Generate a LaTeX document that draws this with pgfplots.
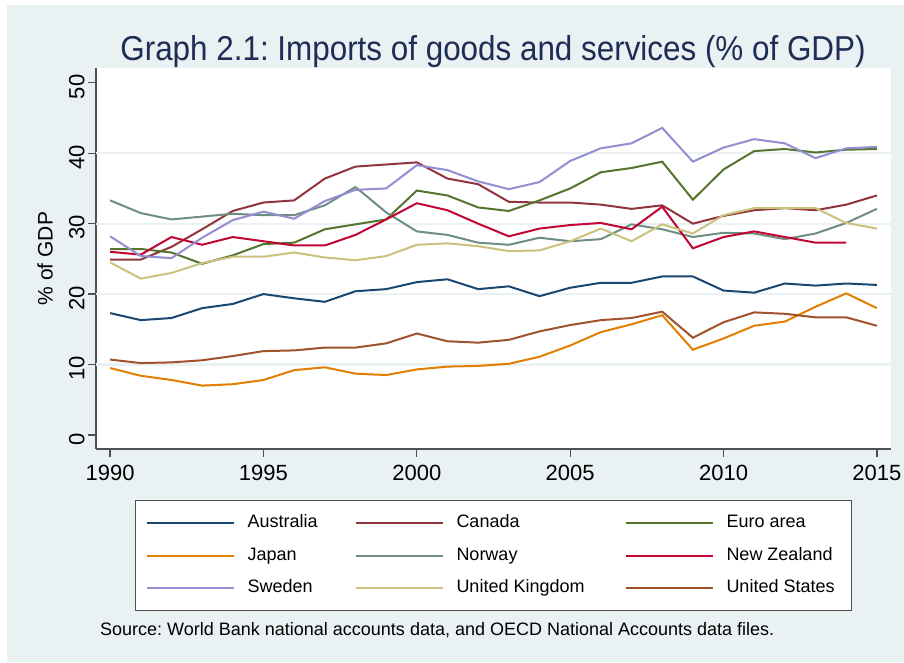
\documentclass[border=0pt]{standalone}
\usepackage{fontspec}
\setmainfont{Liberation Sans}
\usepackage{graphicx}
\usepackage{pgfplots}
\usepackage{pgfplotstable}
\pgfplotsset{compat=1.18}
\frenchspacing

\definecolor{bgc}{RGB}{233,241,243}
\definecolor{gridc}{RGB}{233,241,243}
\definecolor{axc}{RGB}{80,80,80}
\definecolor{titlec}{RGB}{30,45,85}
\definecolor{cnavy}{RGB}{26,71,111}
\definecolor{cmaroon}{RGB}{144,53,59}
\definecolor{cforest}{RGB}{85,117,47}
\definecolor{corange}{RGB}{227,126,0}
\definecolor{cteal}{RGB}{110,142,132}
\definecolor{ccranb}{RGB}{193,5,52}
\definecolor{clav}{RGB}{147,141,210}
\definecolor{ckhaki}{RGB}{202,194,126}
\definecolor{csienna}{RGB}{160,82,45}

% imports, % of GDP
\pgfplotstableread{
year aus  can  euro jpn  nor  nz   swe  uk   us
1990 17.3 24.9 26.4 9.5  33.3 26.0 28.2 24.5 10.7
1991 16.3 24.9 26.4 8.4  31.5 25.6 25.4 22.2 10.2
1992 16.6 26.7 25.9 7.8  30.6 28.1 25.1 23.0 10.3
1993 18.0 29.2 24.3 7.0  31.0 27.0 28.0 24.4 10.6
1994 18.6 31.8 25.5 7.2  31.4 28.1 30.5 25.3 11.2
1995 20.0 33.0 27.1 7.8  31.2 27.5 31.7 25.3 11.9
1996 19.4 33.3 27.3 9.2  31.2 26.9 30.7 25.9 12.0
1997 18.9 36.4 29.2 9.6  32.6 26.9 33.2 25.2 12.4
1998 20.4 38.1 29.9 8.7  35.2 28.4 34.8 24.8 12.4
1999 20.7 38.4 30.6 8.5  31.6 30.6 35.0 25.4 13.0
2000 21.7 38.7 34.7 9.3  28.9 32.9 38.3 27.0 14.4
2001 22.1 36.4 34.0 9.7  28.4 31.9 37.6 27.2 13.3
2002 20.7 35.6 32.3 9.8  27.3 30.0 36.0 26.8 13.1
2003 21.1 33.1 31.8 10.1 27.0 28.2 34.9 26.1 13.5
2004 19.7 33.0 33.3 11.1 28.0 29.3 35.9 26.2 14.7
2005 20.9 33.0 35.0 12.7 27.5 29.8 38.9 27.5 15.6
2006 21.6 32.7 37.3 14.6 27.8 30.1 40.7 29.3 16.3
2007 21.6 32.1 37.9 15.7 29.9 29.2 41.4 27.5 16.6
2008 22.5 32.6 38.8 17.0 29.2 32.4 43.6 29.9 17.5
2009 22.5 30.0 33.4 12.1 28.1 26.5 38.8 28.6 13.8
2010 20.5 31.1 37.7 13.7 28.7 28.1 40.8 31.2 16.0
2011 20.2 31.9 40.3 15.5 28.6 28.9 42.0 32.2 17.4
2012 21.5 32.2 40.6 16.1 27.8 28.1 41.4 32.2 17.2
2013 21.2 31.9 40.1 18.2 28.6 27.3 39.3 32.2 16.7
2014 21.5 32.7 40.5 20.1 30.1 27.3 40.7 30.1 16.7
2015 21.3 34.0 40.6 18.0 32.1 nan  40.9 29.3 15.5
}\imports

\newcommand{\lgA}[1]{\makebox[120pt][l]{\hspace{13pt}#1}}
\newcommand{\lgB}[1]{\makebox[181pt][l]{\hspace{13pt}#1}}
\newcommand{\lgC}[1]{\makebox[128pt][l]{\hspace{13pt}#1}}

\begin{document}
\begin{tikzpicture}
\fill[white] (0,0) rectangle (904pt,-662pt);
\fill[bgc] (7pt,-5pt) rectangle (904pt,-662pt);

\begin{axis}[
  at={(96pt,-449pt)}, anchor=south west,
  width=795pt, height=381pt, scale only axis,
  xmin=1989.54, xmax=2015.46, ymin=-2, ymax=52.1,
  axis x line*=bottom, axis y line*=left,
  axis line style={draw=axc, line width=1.3pt, -},
  axis background/.style={fill=white},
  tick align=outside, major tick length=8pt,
  tick style={draw=axc, line width=1.3pt},
  xtick={1990,1995,...,2015}, ytick={0,10,...,50},
  extra y ticks={10,20,30,40}, extra y tick labels={},
  extra y tick style={grid=major, major tick length=0pt,
    major grid style={draw=gridc, line width=2pt}},
  /pgf/number format/assume math mode=true,
  /pgf/number format/1000 sep={},
  tick label style={font=\fontsize{22}{24}\selectfont, text=black},
  xticklabel style={yshift=-5pt},
  yticklabel style={rotate=90, anchor=south, xshift=-4pt},
  ylabel={\% of GDP},
  ylabel style={font=\fontsize{21}{23}\selectfont, at={(axis description cs:-0.064,0.5)}, anchor=center},
  legend columns=3,
  legend style={at={(0.5,-0.134)}, anchor=north, draw=axc, line width=1pt, fill=white,
    column sep=0pt, row sep=15.5pt, inner xsep=10pt, inner ysep=14pt,
    cells={anchor=west},
    nodes={inner sep=0pt, text height=13pt, text depth=4pt, font=\fontsize{18}{20}\selectfont}},
  legend image code/.code={\draw[#1] (0pt,0pt) -- (87pt,0pt);},
  every axis plot/.append style={line width=2pt},
]
\addplot[cnavy] table[x=year, y=aus] {\imports};
\addlegendentry{\lgA{Australia}}
\addplot[cmaroon] table[x=year, y=can] {\imports};
\addlegendentry{\lgB{Canada}}
\addplot[cforest] table[x=year, y=euro] {\imports};
\addlegendentry{\lgC{Euro area}}
\addplot[corange] table[x=year, y=jpn] {\imports};
\addlegendentry{\lgA{Japan}}
\addplot[cteal] table[x=year, y=nor] {\imports};
\addlegendentry{\lgB{Norway}}
\addplot[ccranb] table[x=year, y=nz] {\imports};
\addlegendentry{\lgC{New Zealand}}
\addplot[clav] table[x=year, y=swe] {\imports};
\addlegendentry{\lgA{Sweden}}
\addplot[ckhaki] table[x=year, y=uk] {\imports};
\addlegendentry{\lgB{United Kingdom}}
\addplot[csienna] table[x=year, y=us] {\imports};
\addlegendentry{\lgC{United States}}
\end{axis}

\node[anchor=base, text=titlec, font=\fontsize{31.4}{34}\selectfont, inner sep=0pt]
  at (493pt,-60pt) {\scalebox{1}[1.1]{Graph 2.1: Imports of goods and services (\% of GDP)}};
\node[anchor=base west, font=\fontsize{18}{20}\selectfont, inner sep=0pt]
  at (100pt,-635pt) {Source: World Bank national accounts data, and OECD National Accounts data files.};
\pgfresetboundingbox
\useasboundingbox (0,0) rectangle (904pt,-662pt);
\end{tikzpicture}
\end{document}
